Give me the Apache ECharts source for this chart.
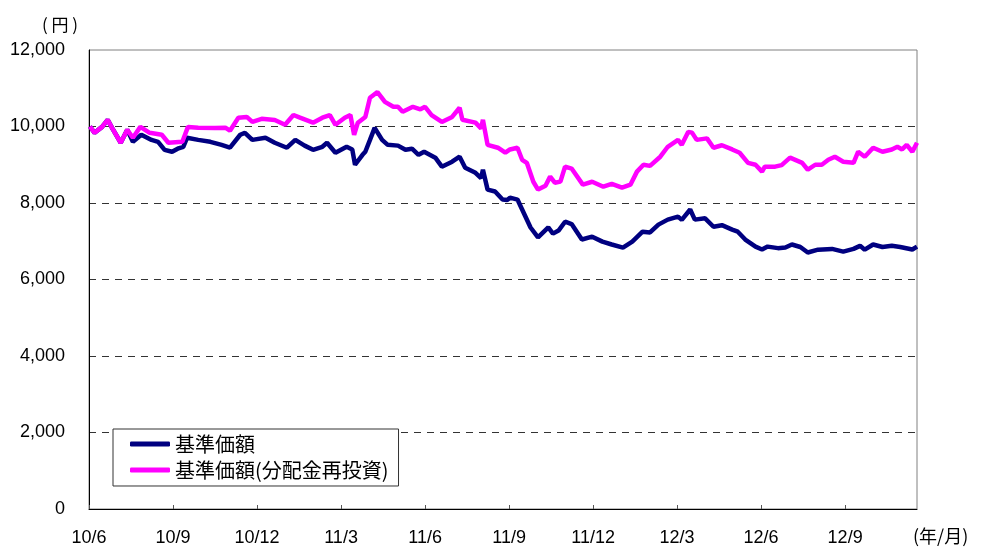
<!DOCTYPE html>
<html lang="ja">

<head>
  <meta charset="UTF-8">
  <title>基準価額の推移</title>
  <style>
    html,
    body {
      width: 100%;
      height: 100%;
      padding: 0;
      margin: 0;
      background: #fff;
    }

    #eChart {
      width: 981px;
      height: 547px;
    }
  </style>
</head>

<body>
  <div id="eChart"></div>

  <script src="https://cdn.jsdelivr.net/npm/echarts@6/dist/echarts.min.js"></script>
  <script>
    // 基準価額
    var navDates = ['2010/6/2', '2010/6/7', '2010/6/15', '2010/6/21', '2010/6/26', '2010/7/5', '2010/7/12', '2010/7/18',
      '2010/7/27', '2010/8/8', '2010/8/15', '2010/8/22', '2010/8/30', '2010/9/6', '2010/9/12', '2010/9/16', '2010/9/28',
      '2010/10/11', '2010/10/23', '2010/11/2', '2010/11/13', '2010/11/18', '2010/11/26', '2010/12/10', '2010/12/20',
      '2011/1/3', '2011/1/12', '2011/1/22', '2011/2/1', '2011/2/11', '2011/2/16', '2011/2/25', '2011/3/7', '2011/3/13',
      '2011/3/16', '2011/3/24', '2011/3/27', '2011/4/2', '2011/4/7', '2011/4/15', '2011/4/21', '2011/5/2', '2011/5/10',
      '2011/5/17', '2011/5/24', '2011/5/30', '2011/6/12', '2011/6/19', '2011/6/30', '2011/7/8', '2011/7/14', '2011/7/25',
      '2011/8/1', '2011/8/3', '2011/8/8', '2011/8/16', '2011/8/24', '2011/8/29', '2011/9/2', '2011/9/10', '2011/9/15',
      '2011/9/24', '2011/10/2', '2011/10/13', '2011/10/18', '2011/10/24', '2011/11/1', '2011/11/8', '2011/11/19',
      '2011/11/30', '2011/12/11', '2011/12/21', '2012/1/3', '2012/1/13', '2012/1/24', '2012/2/2', '2012/2/11',
      '2012/2/21', '2012/3/2', '2012/3/6', '2012/3/15', '2012/3/20', '2012/4/1', '2012/4/10', '2012/4/19', '2012/4/30',
      '2012/5/6', '2012/5/14', '2012/5/25', '2012/6/2', '2012/6/8', '2012/6/19', '2012/6/27', '2012/7/4', '2012/7/13',
      '2012/7/21', '2012/8/2', '2012/8/17', '2012/8/29', '2012/9/10', '2012/9/17', '2012/9/22', '2012/10/1',
      '2012/10/11', '2012/10/21', '2012/10/30', '2012/11/13', '2012/11/18'];
    var navValues = [10000, 9835, 9990, 10175, 9950, 9575, 9915, 9600,
      9785, 9650, 9600, 9390, 9340, 9420, 9470, 9705, 9650,
      9600, 9520, 9450, 9785, 9835, 9650, 9705, 9575,
      9445, 9650, 9500, 9390, 9470, 9575, 9315, 9470, 9400,
      9000, 9260, 9340, 9650, 9965, 9650, 9520, 9500, 9390,
      9420, 9260, 9340, 9185, 8950, 9080, 9210, 8920, 8790,
      8650, 8870, 8350, 8300, 8090, 8080, 8140, 8090, 7830,
      7360, 7100, 7360, 7200, 7280, 7510, 7450, 7045,
      7120, 6990, 6915, 6835, 6990, 7250, 7230, 7435,
      7565, 7645, 7560, 7830, 7565, 7600, 7380, 7420, 7305,
      7250, 7045, 6860, 6785, 6860, 6820, 6835, 6915, 6850,
      6705, 6780, 6800, 6730, 6800, 6880, 6780, 6915,
      6850, 6880, 6850, 6785, 6860];

    // 基準価額(分配金再投資)
    var reinvDates = ['2010/6/2', '2010/6/7', '2010/6/15', '2010/6/21', '2010/6/26', '2010/7/5', '2010/7/12', '2010/7/18',
      '2010/7/26', '2010/8/6', '2010/8/19', '2010/8/26', '2010/9/11', '2010/9/17', '2010/9/28', '2010/10/16',
      '2010/10/27', '2010/11/2', '2010/11/11', '2010/11/20', '2010/11/26', '2010/12/6', '2010/12/20', '2011/1/1',
      '2011/1/10', '2011/1/17', '2011/2/1', '2011/2/11', '2011/2/19', '2011/2/25', '2011/3/5', '2011/3/11',
      '2011/3/15', '2011/3/19', '2011/3/27', '2011/4/2', '2011/4/10', '2011/4/18', '2011/4/27', '2011/5/2',
      '2011/5/7', '2011/5/18', '2011/5/26', '2011/6/1', '2011/6/8', '2011/6/19', '2011/6/30', '2011/7/8', '2011/7/11',
      '2011/7/25', '2011/8/1', '2011/8/3', '2011/8/8', '2011/8/19', '2011/8/27', '2011/9/2', '2011/9/10', '2011/9/15',
      '2011/9/20', '2011/9/27', '2011/10/2', '2011/10/10', '2011/10/15', '2011/10/20', '2011/10/26', '2011/11/1',
      '2011/11/8', '2011/11/20', '2011/11/30', '2011/12/12', '2011/12/21', '2012/1/2', '2012/1/11', '2012/1/18',
      '2012/1/25', '2012/2/2', '2012/2/13', '2012/2/21', '2012/3/2', '2012/3/6', '2012/3/13', '2012/3/17', '2012/3/22',
      '2012/4/3', '2012/4/10', '2012/4/19', '2012/4/30', '2012/5/8', '2012/5/17', '2012/5/25', '2012/6/2', '2012/6/5',
      '2012/6/16', '2012/6/23', '2012/7/2', '2012/7/15', '2012/7/21', '2012/7/29', '2012/8/6', '2012/8/13',
      '2012/8/20', '2012/8/29', '2012/9/10', '2012/9/15', '2012/9/22', '2012/10/1', '2012/10/11', '2012/10/21',
      '2012/10/27', '2012/11/2', '2012/11/7', '2012/11/13', '2012/11/18'];
    var reinvValues = [10000, 9835, 9990, 10175, 9950, 9575, 9915, 9705,
      9990, 9835, 9785, 9575, 9600, 9990, 9970, 9960,
      9970, 9890, 10230, 10250, 10120, 10200, 10170, 10045,
      10300, 10230, 10100, 10230, 10300, 10045, 10230, 10300,
      9785, 10100, 10250, 10750, 10900, 10645, 10515, 10515,
      10385, 10515, 10450, 10515, 10300, 10120, 10250, 10490, 10175,
      10100, 9950, 10175, 9520, 9445, 9315, 9400, 9445, 9130,
      9050, 8555, 8350, 8450, 8690, 8530, 8560, 8950,
      8900, 8480, 8555, 8425, 8500, 8400, 8480, 8820,
      9000, 8970, 9210, 9470, 9650, 9520, 9860, 9840, 9650,
      9690, 9445, 9510, 9400, 9315, 9050, 9000, 8820, 8950,
      8950, 8990, 9185, 9050, 8870, 9000, 9000, 9130,
      9210, 9080, 9050, 9340, 9210, 9445, 9340, 9400,
      9470, 9400, 9520, 9340, 9575];

    var tickLabels = ['10/6', '10/9', '10/12', '11/3', '11/6', '11/9', '11/12', '12/3', '12/6', '12/9'];

    // 2010年6月を0とした月数
    function toMonth(s) {
      var p = s.split('/').map(Number);
      return (p[0] - 2010) * 12 + (p[1] - 6) + (p[2] - 1) / 30;
    }

    function pairs(dates, values) {
      return dates.map(function (d, i) {
        return [toMonth(d), values[i]];
      });
    }

    var numFont = '"Liberation Sans", "Noto Sans CJK JP", sans-serif';
    var jpFont = '"Noto Sans CJK JP", sans-serif';

    var myChart = echarts.init(document.getElementById('eChart'));

    myChart.setOption({
      animation: false,
      backgroundColor: '#fff',
      grid: {
        left: 89,
        right: 64,
        top: 50,
        bottom: 38,
        show: true,
        borderColor: '#808080',
        borderWidth: 1
      },
      legend: {
        left: 113,
        top: 429,
        orient: 'vertical',
        backgroundColor: '#fff',
        borderColor: '#333',
        borderWidth: 1,
        borderRadius: 0,
        padding: [5, 10, 6, 17],
        icon: 'roundRect',
        itemWidth: 40,
        itemHeight: 5,
        itemGap: 6,
        textStyle: {
          fontFamily: jpFont,
          fontSize: 20,
          color: '#000'
        },
        data: ['基準価額', '基準価額(分配金再投資)']
      },
      xAxis: {
        type: 'value',
        min: 0,
        max: 'dataMax',
        interval: 3,
        axisLine: { lineStyle: { color: '#000' } },
        axisTick: { inside: true, length: 4, lineStyle: { color: '#555' } },
        splitLine: { show: false },
        axisLabel: {
          showMaxLabel: false,
          margin: 20,
          fontFamily: numFont,
          fontSize: 18,
          color: '#000',
          formatter: function (v) {
            return tickLabels[Math.round(v / 3)] || '';
          }
        }
      },
      yAxis: {
        type: 'value',
        min: 0,
        max: 12000,
        interval: 2000,
        axisLine: { show: true, lineStyle: { color: '#000' } },
        axisTick: { show: false },
        splitLine: {
          show: true,
          lineStyle: {
            color: ['transparent', '#333', '#333', '#333', '#333', '#333', 'transparent'],
            type: [7, 6],
            width: 1
          }
        },
        axisLabel: {
          margin: 24,
          padding: [3, 0, 0, 0],
          fontFamily: numFont,
          fontSize: 18,
          color: '#000',
          formatter: function (v) {
            return v.toLocaleString('en-US');
          }
        }
      },
      graphic: [
        {
          type: 'text',
          left: 42,
          top: 16,
          style: { text: '( 円 )', font: '17px ' + jpFont, fill: '#000' }
        },
        {
          type: 'text',
          left: 913,
          top: 527,
          style: { text: '(年/月)', font: '18px ' + jpFont, fill: '#000' }
        }
      ],
      series: [
        {
          name: '基準価額',
          type: 'line',
          symbol: 'none',
          lineStyle: { color: '#000080', width: 4.5 },
          itemStyle: { color: '#000080' },
          data: pairs(navDates, navValues)
        },
        {
          name: '基準価額(分配金再投資)',
          type: 'line',
          symbol: 'none',
          lineStyle: { color: '#ff00ff', width: 4.5 },
          itemStyle: { color: '#ff00ff' },
          data: pairs(reinvDates, reinvValues)
        }
      ]
    });
  </script>
</body>

</html>
